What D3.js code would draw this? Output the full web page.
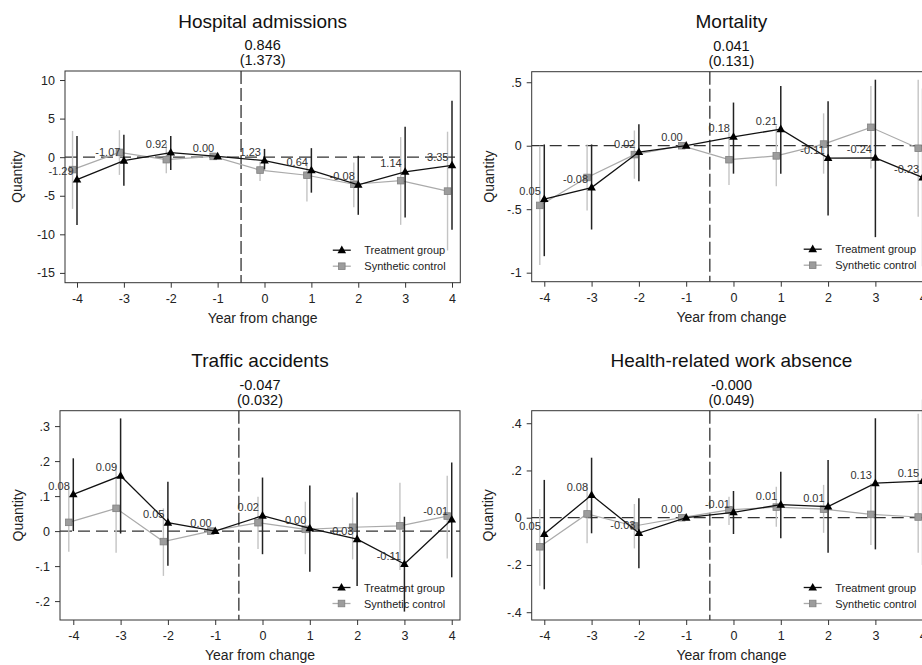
<!DOCTYPE html>
<html>
<head>
<meta charset="utf-8">
<script src="https://cdn.jsdelivr.net/npm/d3@7"></script>
<style>
  html, body { margin: 0; padding: 0; background: #fff; }
  svg { display: block; font-family: "Liberation Sans", Arial, Helvetica, sans-serif; }
</style>
</head>
<body>
<svg id="chart" width="922" height="665"></svg>
<script>
// Event-time axis shared by all four panels
const years = [-4, -3, -2, -1, 0, 1, 2, 3, 4];

const panelTitles = ["Hospital admissions", "Mortality", "Traffic accidents", "Health-related work absence"];
const estimateText = ["0.846", "0.041", "-0.047", "-0.000"];
const seText = ["(1.373)", "(0.131)", "(0.032)", "(0.049)"];
const legendLabels = ["Treatment group", "Synthetic control"];
const xAxisTitle = "Year from change";
const yAxisTitle = "Quantity";

// Hospital admissions
const hospTreat   = [-2.9, -0.45, 0.6, 0.1, -0.44, -1.7, -3.59, -1.9, -1.05];
const hospTreatLo = [-8.8, -3.7, -1.65, null, -1.6, -4.6, -7.47, -7.82, -9.4];
const hospTreatHi = [2.76, 2.9, 2.76, null, 1.07, 1.17, 0.17, 3.96, 7.33];
const hospSynth   = [-1.61, 0.62, -0.32, 0.1, -1.67, -2.34, -3.51, -3.04, -4.4];
const hospSynthLo = [-6.7, -2.3, -2.07, null, -3.1, -5.75, -6.48, -8.77, -12.1];
const hospSynthHi = [3.4, 3.5, 1.7, null, -0.6, -0.65, -0.7, 2.6, 3.3];
const hospGap     = [-1.29, -1.07, 0.92, 0.00, 1.23, 0.64, -0.08, 1.14, 3.35];
const hospTicks   = [10, 5, 0, -5, -10, -15];

// Mortality
const mortTreat   = [-0.42, -0.33, -0.05, 0, 0.07, 0.13, -0.097, -0.095, -0.25];
const mortTreatLo = [-0.87, -0.66, -0.28, null, -0.22, -0.22, -0.55, -0.72, -0.95];
const mortTreatHi = [0.01, 0.01, 0.17, null, 0.34, 0.47, 0.35, 0.52, 0.45];
const mortSynth   = [-0.47, -0.25, -0.07, 0, -0.11, -0.08, 0.013, 0.145, -0.02];
const mortSynthLo = [-0.94, -0.51, -0.26, null, -0.31, -0.32, -0.22, -0.18, -0.56];
const mortSynthHi = [0.0, 0.01, 0.12, null, 0.105, 0.16, 0.255, 0.47, 0.52];
const mortGap     = [0.05, -0.08, 0.02, 0.00, 0.18, 0.21, -0.11, -0.24, -0.23];
const mortTicks   = [0.5, 0, -0.5, -1];

// Traffic accidents
const trafTreat   = [0.105, 0.158, 0.024, 0, 0.044, 0.008, -0.023, -0.094, 0.033];
const trafTreatLo = [0.0, -0.007, -0.099, null, -0.066, -0.116, -0.157, -0.23, -0.132];
const trafTreatHi = [0.208, 0.322, 0.141, null, 0.153, 0.13, 0.11, 0.041, 0.196];
const trafSynth   = [0.025, 0.065, -0.03, 0, 0.024, 0.005, 0.011, 0.015, 0.043];
const trafSynthLo = [-0.059, -0.062, -0.128, null, -0.051, -0.066, -0.081, -0.111, -0.078];
const trafSynthHi = [0.131, 0.19, 0.065, null, 0.098, 0.084, 0.096, 0.138, 0.158];
const trafGap     = [0.08, 0.09, 0.05, 0.00, 0.02, 0.00, -0.03, -0.11, -0.01];
const trafTicks   = [0.3, 0.2, 0.1, 0, -0.1, -0.2];

// Health-related work absence
const workTreat   = [-0.069, 0.096, -0.065, 0, 0.023, 0.055, 0.047, 0.146, 0.155];
const workTreatLo = [-0.303, -0.066, -0.214, null, -0.069, -0.087, -0.148, -0.134, -0.2];
const workTreatHi = [0.16, 0.254, 0.082, null, 0.113, 0.195, 0.244, 0.421, 0.5];
const workSynth   = [-0.123, 0.016, -0.035, 0, 0.033, 0.045, 0.036, 0.014, 0.003];
const workSynthLo = [-0.288, -0.108, -0.13, null, -0.031, -0.038, -0.064, -0.116, -0.148];
const workSynthHi = [0.037, 0.14, 0.058, null, 0.089, 0.131, 0.139, 0.146, 0.44];
const workGap     = [0.05, 0.08, -0.03, 0.00, -0.01, 0.01, 0.01, 0.13, 0.15];
const workTicks   = [0.4, 0.2, 0, -0.2, -0.4];

// Panel layout: plot frame in pixels and the data extent it spans
const panels = [
  { title: panelTitles[0], est: estimateText[0], se: seText[0],
    treat: hospTreat, treatLo: hospTreatLo, treatHi: hospTreatHi,
    synth: hospSynth, synthLo: hospSynthLo, synthHi: hospSynthHi, gap: hospGap, ticks: hospTicks,
    box: { l: 65, r: 460.3, t: 71, b: 282.7 }, xDom: [-4.256, 4.177], yDom: [11.17, -16.27], yTitleX: 17 },
  { title: panelTitles[1], est: estimateText[1], se: seText[1],
    treat: mortTreat, treatLo: mortTreatLo, treatHi: mortTreatHi,
    synth: mortSynth, synthLo: mortSynthLo, synthHi: mortSynthHi, gap: mortGap, ticks: mortTicks,
    box: { l: 531.7, r: 931.2, t: 71.7, b: 281.7 }, xDom: [-4.266, 4.18], yDom: [0.583, -1.071], yTitleX: 489 },
  { title: panelTitles[2], est: estimateText[2], se: seText[2],
    treat: trafTreat, treatLo: trafTreatLo, treatHi: trafTreatHi,
    synth: trafSynth, synthLo: trafSynthLo, synthHi: trafSynthHi, gap: trafGap, ticks: trafTicks,
    box: { l: 60, r: 460, t: 410.7, b: 620 }, xDom: [-4.281, 4.175], yDom: [0.344, -0.254], yTitleX: 18 },
  { title: panelTitles[3], est: estimateText[3], se: seText[3],
    treat: workTreat, treatLo: workTreatLo, treatHi: workTreatHi,
    synth: workSynth, synthLo: workSynthLo, synthHi: workSynthHi, gap: workGap, ticks: workTicks,
    box: { l: 531.7, r: 931.2, t: 410.7, b: 620 }, xDom: [-4.266, 4.18], yDom: [0.453, -0.433], yTitleX: 488 }
];

const svg = d3.select("#chart");
svg.append("rect").attr("width", 922).attr("height", 665).attr("fill", "#fff");

const SYNTH_SHIFT = -0.095;      // control series is drawn slightly left of each year
const stataNum = v => v === 0 ? "0" : String(+v.toFixed(4)).replace(/^(-?)0\./, "$1.");

const triPath = (cx, cy) => `M${cx},${cy - 4.6}L${cx + 4.3},${cy + 3}L${cx - 4.3},${cy + 3}Z`;

panels.forEach(p => {
  const g = svg.append("g");
  const { l, r, t, b } = p.box;
  const x = d3.scaleLinear().domain(p.xDom).range([l, r]);
  const y = d3.scaleLinear().domain(p.yDom).range([t, b]);
  const cx = (l + r) / 2;

  // Frame
  g.append("rect").attr("x", l).attr("y", t).attr("width", r - l).attr("height", b - t)
    .attr("fill", "#fff").attr("stroke", "#333").attr("stroke-width", 1);

  // Titles
  g.append("text").attr("x", cx).attr("y", t - 43.5).attr("text-anchor", "middle")
    .attr("font-size", 19).attr("fill", "#111").text(p.title);
  g.append("text").attr("x", cx).attr("y", t - 21).attr("text-anchor", "middle")
    .attr("font-size", 14.5).attr("fill", "#111").text(p.est);
  g.append("text").attr("x", cx).attr("y", t - 6).attr("text-anchor", "middle")
    .attr("font-size", 14.5).attr("fill", "#111").text(p.se);

  // Axes
  const ya = g.append("g").attr("transform", `translate(${l},0)`)
    .call(d3.axisLeft(y).tickValues(p.ticks).tickSize(5).tickPadding(5).tickFormat(stataNum));
  const xa = g.append("g").attr("transform", `translate(0,${b})`)
    .call(d3.axisBottom(x).tickValues(years).tickSize(5).tickPadding(6.5).tickFormat(d => String(d)));
  [ya, xa].forEach(a => {
    a.select(".domain").remove();
    a.selectAll("line").attr("stroke", "#333");
    a.selectAll("text").attr("font-size", 12.5).attr("fill", "#222")
      .attr("font-family", "'Liberation Sans', Arial, sans-serif");
  });
  g.append("text").attr("x", cx).attr("y", b + 40).attr("text-anchor", "middle")
    .attr("font-size", 14).attr("fill", "#222").text(xAxisTitle);
  g.append("text").attr("transform", `translate(${p.yTitleX},${(t + b) / 2}) rotate(-90)`)
    .attr("text-anchor", "middle").attr("dominant-baseline", "central")
    .attr("font-size", 14).attr("fill", "#222").text(yAxisTitle);

  // Reference lines: zero and the change point
  g.append("line").attr("x1", l).attr("x2", r).attr("y1", y(0)).attr("y2", y(0))
    .attr("stroke", "#333").attr("stroke-width", 1.2).attr("stroke-dasharray", "12,6");
  g.append("line").attr("x1", x(-0.5)).attr("x2", x(-0.5)).attr("y1", t).attr("y2", b)
    .attr("stroke", "#333").attr("stroke-width", 1.3).attr("stroke-dasharray", "13,4");

  const idx = d3.range(years.length);

  // Synthetic control: intervals, line, markers
  g.selectAll(null).data(idx.filter(i => p.synthLo[i] !== null)).join("line")
    .attr("x1", i => x(years[i] + SYNTH_SHIFT)).attr("x2", i => x(years[i] + SYNTH_SHIFT))
    .attr("y1", i => y(p.synthLo[i])).attr("y2", i => y(p.synthHi[i]))
    .attr("stroke", "#c4c4c4").attr("stroke-width", 1.4);
  g.append("path").datum(idx)
    .attr("d", d3.line().x(i => x(years[i] + SYNTH_SHIFT)).y(i => y(p.synth[i])))
    .attr("fill", "none").attr("stroke", "#aaa").attr("stroke-width", 1.2);
  g.selectAll(null).data(idx).join("rect")
    .attr("x", i => x(years[i] + SYNTH_SHIFT) - 3.3).attr("y", i => y(p.synth[i]) - 3.3)
    .attr("width", 6.6).attr("height", 6.6)
    .attr("fill", "#9c9c9c").attr("stroke", "#808080").attr("stroke-width", 0.8);

  // Treatment group: intervals, line, markers
  g.selectAll(null).data(idx.filter(i => p.treatLo[i] !== null)).join("line")
    .attr("x1", i => x(years[i])).attr("x2", i => x(years[i]))
    .attr("y1", i => y(p.treatLo[i])).attr("y2", i => y(p.treatHi[i]))
    .attr("stroke", "#222").attr("stroke-width", 1.5);
  g.append("path").datum(idx)
    .attr("d", d3.line().x(i => x(years[i])).y(i => y(p.treat[i])))
    .attr("fill", "none").attr("stroke", "#111").attr("stroke-width", 1.3);
  g.selectAll(null).data(idx).join("path")
    .attr("d", i => triPath(x(years[i]), y(p.treat[i])))
    .attr("fill", "#000");

  // Gap labels next to each treatment marker
  g.selectAll(null).data(idx).join("text")
    .attr("x", i => x(years[i]) - 3.5).attr("y", i => y(p.treat[i]) - 4.5)
    .attr("text-anchor", "end").attr("font-size", 11).attr("fill", "#333")
    .text(i => p.gap[i].toFixed(2));

  // Legend
  const rows = [
    { dy: -32.5, label: legendLabels[0], kind: "tri" },
    { dy: -16.5, label: legendLabels[1], kind: "sq" }
  ];
  rows.forEach(row => {
    const ly = b + row.dy;
    const mx = r - 118.5;
    g.append("line").attr("x1", mx - 9).attr("x2", mx + 9).attr("y1", ly).attr("y2", ly)
      .attr("stroke", row.kind === "tri" ? "#111" : "#aaa").attr("stroke-width", 1.3);
    if (row.kind === "tri") {
      g.append("path").attr("d", triPath(mx, ly)).attr("fill", "#000");
    } else {
      g.append("rect").attr("x", mx - 3.3).attr("y", ly - 3.3).attr("width", 6.6).attr("height", 6.6)
        .attr("fill", "#9c9c9c").attr("stroke", "#808080").attr("stroke-width", 0.8);
    }
    g.append("text").attr("x", r - 96).attr("y", ly + 4).attr("font-size", 11)
      .attr("fill", "#222").text(row.label);
  });
});
</script>
</body>
</html>
